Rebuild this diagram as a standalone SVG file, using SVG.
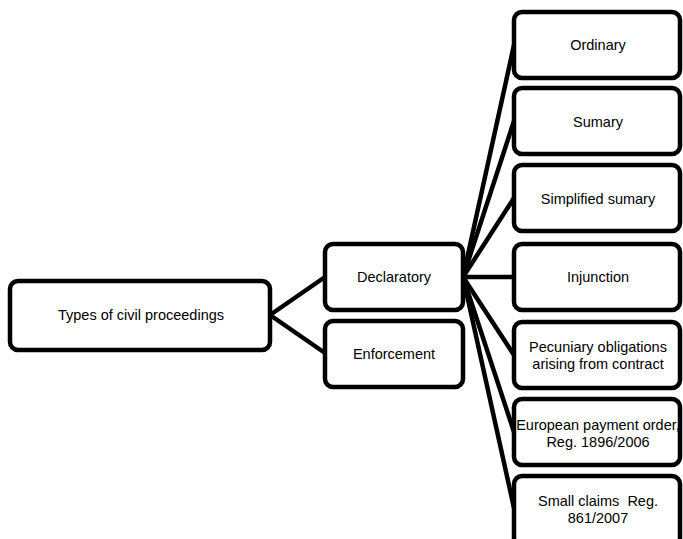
<svg xmlns="http://www.w3.org/2000/svg" width="683" height="539" viewBox="0 0 683 539">
<style>
.box{fill:#fff;stroke:#000;stroke-width:4.5}
.c{stroke:#000;stroke-width:4.5;fill:none}
text{font-family:"Liberation Sans",Arial,sans-serif;font-size:14.5px;fill:#000;text-anchor:middle}
.pre{white-space:pre}
</style>
<rect width="683" height="539" fill="#fff"/>
<g id="connectors">
<line class="c" x1="270" y1="315" x2="325" y2="277"/>
<line class="c" x1="270" y1="315" x2="325" y2="353"/>
<line class="c" x1="463" y1="277" x2="514" y2="45"/>
<line class="c" x1="463" y1="277" x2="514" y2="121"/>
<line class="c" x1="463" y1="277" x2="514" y2="198"/>
<line class="c" x1="463" y1="277" x2="514" y2="277"/>
<line class="c" x1="463" y1="277" x2="514" y2="355"/>
<line class="c" x1="463" y1="277" x2="514" y2="432"/>
<line class="c" x1="463" y1="277" x2="514" y2="508"/>
</g>
<g id="root"><rect class="box" x="10" y="281" width="260" height="69" rx="8"/><text x="141" y="320">Types of civil proceedings</text></g>
<g id="declaratory"><rect class="box" x="325" y="244" width="138" height="66" rx="8"/><text x="394" y="282">Declaratory</text></g>
<g id="enforcement"><rect class="box" x="325" y="321" width="138" height="66" rx="8"/><text x="394" y="359">Enforcement</text></g>
<g id="ordinary"><rect class="box" x="514" y="12" width="166" height="66" rx="8"/><text x="598" y="50">Ordinary</text></g>
<g id="sumary"><rect class="box" x="514" y="88" width="166" height="66" rx="8"/><text x="598" y="127">Sumary</text></g>
<g id="simplified"><rect class="box" x="514" y="165" width="166" height="66" rx="8"/><text x="598" y="204">Simplified sumary</text></g>
<g id="injunction"><rect class="box" x="514" y="244" width="166" height="66" rx="8"/><text x="598" y="282">Injunction</text></g>
<g id="pecuniary"><rect class="box" x="514" y="322" width="166" height="66" rx="8"/><text x="598" y="352">Pecuniary obligations</text><text x="598" y="369">arising from contract</text></g>
<g id="european"><rect class="box" x="514" y="399" width="166" height="66" rx="8"/><text x="598" y="430">European payment order,</text><text x="598" y="447">Reg. 1896/2006</text></g>
<g id="smallclaims"><rect class="box" x="514" y="476" width="166" height="70" rx="8"/><text class="pre" x="598" y="506">Small claims  Reg.</text><text x="598" y="523">861/2007</text></g>
</svg>
